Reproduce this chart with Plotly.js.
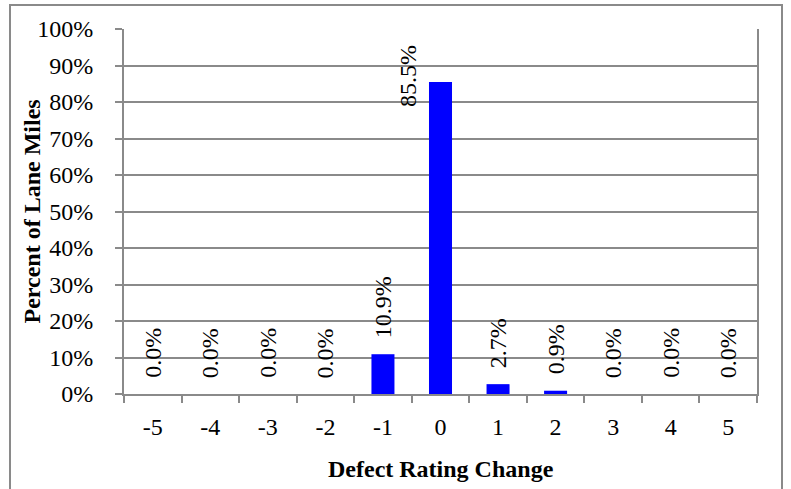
<!DOCTYPE html>
<html>
<head>
<meta charset="utf-8">
<script src="https://cdn.plot.ly/plotly-3.0.1.min.js"></script>
<style>
html,body{margin:0;padding:0;background:#fff;}
#chart{width:791px;height:489px;}
</style>
</head>
<body>
<div id="chart"></div>
<script>
var categories = ['-5','-4','-3','-2','-1','0','1','2','3','4','5'];
var values = [0.000, 0.000, 0.000, 0.000, 0.109, 0.855, 0.027, 0.009, 0.000, 0.000, 0.000];
var labels = ['0.0%','0.0%','0.0%','0.0%','10.9%','85.5%','2.7%','0.9%','0.0%','0.0%','0.0%'];
var xTitle = 'Defect Rating Change';
var yTitle = 'Percent of Lane Miles';

var W = 791, H = 489;
var M = {l: 124, r: 34, t: 29, b: 95};
var pw = W - M.l - M.r, ph = H - M.t - M.b;
var FONT = 'Liberation Serif, Times New Roman, serif';
var grey = '#8a8a8a';
var barFrac = 0.4;
var catPx = pw / categories.length;

var annotations = [];
for (var i = 0; i < categories.length; i++) {
  var v = values[i];
  var overflow = v > 0.7;
  annotations.push({
    x: i, y: v, xref: 'x', yref: 'y',
    text: labels[i], showarrow: false, textangle: -90,
    font: {family: FONT, size: 24, color: '#000'},
    xanchor: overflow ? 'right' : 'center',
    yanchor: overflow ? 'middle' : 'bottom',
    xshift: overflow ? -(catPx * barFrac / 2 + 6) : 0,
    yshift: overflow ? 6 : 14
  });
}
// axis titles placed as annotations
annotations.push({
  xref: 'paper', yref: 'paper',
  x: (31 - M.l) / pw, y: 0.5, xanchor: 'center', yanchor: 'middle',
  text: '<b>' + yTitle + '</b>', showarrow: false, textangle: -90,
  font: {family: FONT, size: 24, color: '#000'}
});
annotations.push({
  xref: 'paper', yref: 'paper',
  x: 0.5, y: -(469 - M.t - ph) / ph, xanchor: 'center', yanchor: 'middle',
  text: '<b>' + xTitle + '</b>', showarrow: false,
  font: {family: FONT, size: 24, color: '#000'}
});

var shapes = [{
  type: 'rect', xref: 'paper', yref: 'paper',
  x0: (10 - M.l) / pw, x1: (782 - M.l) / pw,
  y0: -(H - M.t - ph + 20) / ph, y1: 1 + (M.t - 5) / ph,
  line: {color: grey, width: 2}, fillcolor: 'rgba(0,0,0,0)', layer: 'below'
}];

var trace = {
  type: 'bar', x: categories, y: values,
  marker: {color: '#0000FF', line: {width: 0}},
  hoverinfo: 'skip'
};

var layout = {
  width: W, height: H,
  margin: M,
  paper_bgcolor: '#fff', plot_bgcolor: '#fff',
  bargap: 1 - barFrac,
  showlegend: false,
  font: {family: FONT, size: 24, color: '#000'},
  xaxis: {
    type: 'category', range: [-0.5, categories.length - 0.5],
    showline: true, linecolor: grey, linewidth: 2,
    ticks: 'outside', tickson: 'boundaries', ticklen: 7, tickcolor: grey, tickwidth: 2,
    showgrid: false, zeroline: false,
    ticklabelstandoff: 10,
    tickfont: {family: FONT, size: 24, color: '#000'}
  },
  yaxis: {
    range: [0, 1], dtick: 0.1, tickformat: '.0%',
    showline: true, linecolor: grey, linewidth: 2, mirror: true,
    ticks: 'outside', ticklen: 7, tickcolor: grey, tickwidth: 2,
    showgrid: true, gridcolor: grey, gridwidth: 2,
    zeroline: false,
    ticklabelstandoff: 17,
    tickfont: {family: FONT, size: 24, color: '#000'}
  },
  annotations: annotations,
  shapes: shapes
};

Plotly.newPlot('chart', [trace], layout, {displayModeBar: false, staticPlot: true});
</script>
</body>
</html>
